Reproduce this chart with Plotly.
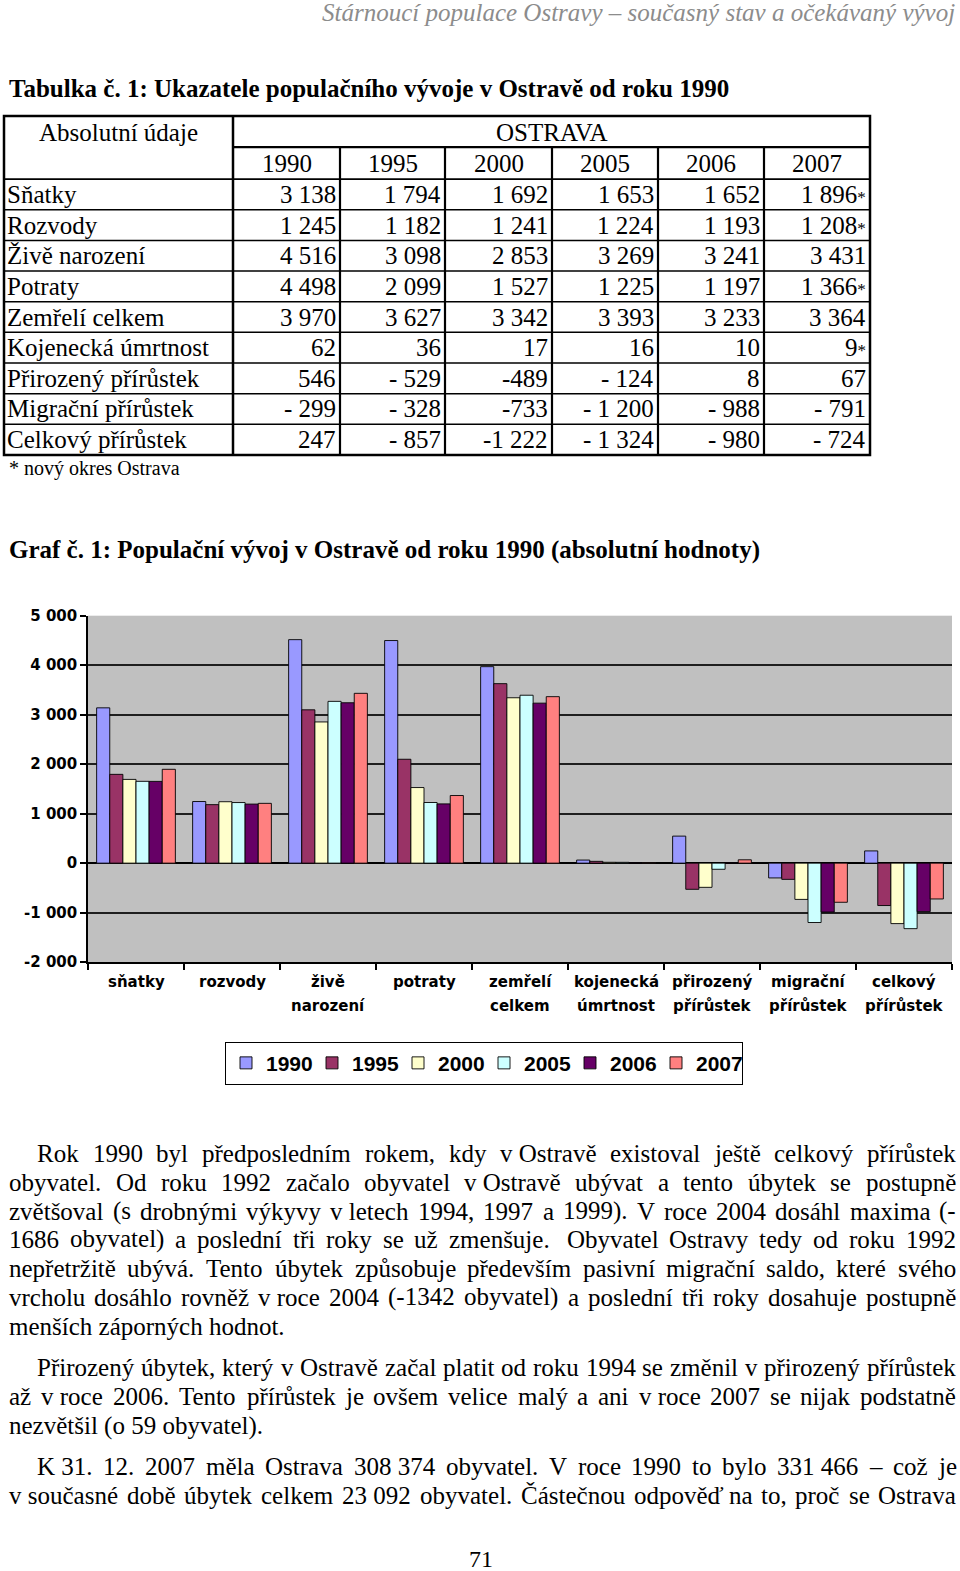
import unicodedata
import plotly.graph_objects as go

W, H = 960, 1571
# measured page mapping of the paper area in the photographed page
OFF, SC = 8.0, 0.9874


def px(x):
    return x / W


def py(y):
    return 1 - (y - OFF) / SC / H


# ---------------- data ----------------
years = ["1990", "1995", "2000", "2005", "2006", "2007"]
colors = ["#9999FF", "#993366", "#FFFFCC", "#CCFFFF", "#660066", "#FF8080"]

categories = ["sňatky", "rozvody", "živě narození", "potraty", "zemřelí celkem",
              "kojenecká úmrtnost", "přirozený přírůstek", "migrační přírůstek",
              "celkový přírůstek"]
row_labels = ["Sňatky", "Rozvody", "Živě narození", "Potraty", "Zemřelí celkem",
              "Kojenecká úmrtnost", "Přirozený přírůstek", "Migrační přírůstek",
              "Celkový přírůstek"]

snatky = [3138, 1794, 1692, 1653, 1652, 1896]
rozvody = [1245, 1182, 1241, 1224, 1193, 1208]
zive_narozeni = [4516, 3098, 2853, 3269, 3241, 3431]
potraty = [4498, 2099, 1527, 1225, 1197, 1366]
zemreli = [3970, 3627, 3342, 3393, 3233, 3364]
kojenecka = [62, 36, 17, 16, 10, 9]
prirozeny = [546, -529, -489, -124, 8, 67]
migracni = [-299, -328, -733, -1200, -988, -791]
celkovy = [247, -857, -1222, -1324, -980, -724]
indicators = [snatky, rozvody, zive_narozeni, potraty, zemreli, kojenecka,
              prirozeny, migracni, celkovy]

# table cell texts as printed
t_snatky = ["3 138", "1 794", "1 692", "1 653", "1 652", "1 896*"]
t_rozvody = ["1 245", "1 182", "1 241", "1 224", "1 193", "1 208*"]
t_zive = ["4 516", "3 098", "2 853", "3 269", "3 241", "3 431"]
t_potraty = ["4 498", "2 099", "1 527", "1 225", "1 197", "1 366*"]
t_zemreli = ["3 970", "3 627", "3 342", "3 393", "3 233", "3 364"]
t_kojenecka = ["62", "36", "17", "16", "10", "9*"]
t_prirozeny = ["546", "- 529", "-489", "- 124", "8", "67"]
t_migracni = ["- 299", "- 328", "-733", "- 1 200", "- 988", "- 791"]
t_celkovy = ["247", "- 857", "-1 222", "- 1 324", "- 980", "- 724"]
table_text = [t_snatky, t_rozvody, t_zive, t_potraty, t_zemreli, t_kojenecka,
              t_prirozeny, t_migracni, t_celkovy]

y_tickvals = [-2000, -1000, 0, 1000, 2000, 3000, 4000, 5000]
y_ticktext = ["-2 000", "-1 000", "0", "1 000", "2 000", "3 000", "4 000", "5 000"]

NB = "\u00a0"
para1 = [
    "Rok 1990 byl předposledním rokem, kdy v" + NB + "Ostravě existoval ještě celkový přírůstek",
    "obyvatel. Od roku 1992 začalo obyvatel v" + NB + "Ostravě ubývat a tento úbytek se postupně",
    "zvětšoval (s drobnými výkyvy v" + NB + "letech 1994, 1997 a 1999). V roce 2004 dosáhl maxima (-",
    "1686 obyvatel) a poslední tři roky se už zmenšuje." + NB + " Obyvatel Ostravy tedy od roku 1992",
    "nepřetržitě ubývá. Tento úbytek způsobuje především pasivní migrační saldo, které svého",
    "vrcholu dosáhlo rovněž v" + NB + "roce 2004 (-1342 obyvatel) a poslední tři roky dosahuje postupně",
    "menších záporných hodnot.",
]
para2 = [
    "Přirozený úbytek, který v Ostravě začal platit od roku 1994 se změnil v přirozený přírůstek",
    "až v" + NB + "roce 2006. Tento přírůstek je ovšem velice malý a ani v" + NB + "roce 2007 se nijak podstatně",
    "nezvětšil (o 59 obyvatel).",
]
para3 = [
    "K" + NB + "31. 12. 2007 měla Ostrava 308" + NB + "374 obyvatel. V roce 1990 to bylo 331" + NB + "466 – což je",
    "v" + NB + "současné době úbytek celkem 23" + NB + "092 obyvatel. Částečnou odpověď na to, proč se Ostrava",
]

# ---------------- helpers ----------------
_TW = {" ": 250, NB: 250, "!": 333, "(": 333, ")": 333, "*": 500, ",": 250, "-": 333,
       ".": 250, "/": 278, ":": 278, ";": 278, "–": 500, "’": 333}
for c in "0123456789":
    _TW[c] = 500
for c, w in zip("abcdefghijklmnopqrstuvwxyz",
                [444, 500, 444, 500, 444, 333, 500, 500, 278, 278, 500, 278, 778,
                 500, 500, 500, 500, 333, 389, 278, 500, 500, 722, 500, 500, 444]):
    _TW[c] = w
for c, w in zip("ABCDEFGHIJKLMNOPQRSTUVWXYZ",
                [722, 667, 667, 722, 611, 556, 722, 722, 333, 389, 722, 611, 889,
                 722, 722, 556, 722, 667, 556, 611, 722, 722, 944, 722, 722, 611]):
    _TW[c] = w


def text_width(s, size):
    tot = 0
    for ch in s:
        base = unicodedata.normalize("NFD", ch)[0]
        tot += _TW.get(ch, _TW.get(base, 500))
    return tot / 1000.0 * size


SERIF = "Liberation Serif"
annotations = []


def T(text, x, y, size, family=SERIF, color="black", xanchor="left",
      yanchor="middle", weight="normal", style="normal"):
    annotations.append(dict(text=text, x=px(x), y=py(y), xref="paper", yref="paper",
                            showarrow=False, xanchor=xanchor, yanchor=yanchor,
                            borderpad=0,
                            font=dict(family=family, size=size, color=color,
                                      weight=weight, style=style)))


def justified(line, x0, x1, y, size, justify=True):
    words = [w for w in line.split(" ") if w != ""]
    if not justify or len(words) == 1:
        T(line, x0, y, size)
        return
    widths = [text_width(w, size) for w in words]
    gap = (x1 - x0 - sum(widths)) / (len(words) - 1)
    x = x0
    for w, ww in zip(words, widths):
        T(w, x, y, size)
        x += ww + gap


# ---------------- header / titles ----------------
T("Stárnoucí populace Ostravy – současný stav a očekávaný vývoj", 956, 11, 25,
  color="#8c8c8c", xanchor="right", style="italic")
T("Tabulka č. 1: Ukazatele populačního vývoje v Ostravě od roku 1990", 8, 87, 25,
  weight="bold")
T("Graf č. 1: Populační vývoj v Ostravě od roku 1990 (absolutní hodnoty)", 8, 548, 25,
  weight="bold")

# ---------------- table ----------------
col_edges = [4, 233, 340, 445, 552, 658, 764, 870]
row_top = 115
row_h1 = 146
row_h2 = 178
row_step = 30.6
row_edges = [row_h2 + i * row_step for i in range(len(row_labels) + 1)]
tbl_bottom = row_edges[-1]

shapes = []


def L(x0, y0, x1, y1, w=2):
    shapes.append(dict(type="line", xref="paper", yref="paper",
                       x0=px(x0), y0=py(y0), x1=px(x1), y1=py(y1),
                       line=dict(color="black", width=w)))


shapes.append(dict(type="rect", xref="paper", yref="paper",
                   x0=px(col_edges[0]), x1=px(col_edges[-1]),
                   y0=py(row_top), y1=py(tbl_bottom),
                   line=dict(color="black", width=2.5)))
L(col_edges[1], row_top, col_edges[1], tbl_bottom, 2.5)
for cx in col_edges[2:-1]:
    L(cx, row_h1, cx, tbl_bottom, 2.2)
L(col_edges[1], row_h1, col_edges[-1], row_h1, 2.2)
for ry in row_edges[:-1]:
    L(col_edges[0], ry, col_edges[-1], ry, 1.8 if ry == row_h2 else 1.5)

T("Absolutní údaje", (col_edges[0] + col_edges[1]) / 2, 131, 25, xanchor="center")
T("OSTRAVA", (col_edges[1] + col_edges[-1]) / 2, 131, 25, xanchor="center")
for j, yr in enumerate(years):
    T(yr, (col_edges[j + 1] + col_edges[j + 2]) / 2, 162, 25, xanchor="center")

for i, lab in enumerate(row_labels):
    yc = (row_edges[i] + row_edges[i + 1]) / 2
    T(lab, 6, yc, 25)
    for j, s in enumerate(table_text[i]):
        if s.endswith("*"):
            s = s[:-1] + "<span style='font-size:17px'>*</span>"
        T(s, col_edges[j + 2] - 3, yc, 25, xanchor="right")

T("* nový okres Ostrava", 8, 467, 20)

# ---------------- chart ----------------
fig = go.Figure()
for j, yr in enumerate(years):
    fig.add_trace(go.Bar(
        x=categories, y=[ind[j] for ind in indicators], name=yr,
        marker=dict(color=colors[j], line=dict(color="black", width=0.9)),
    ))

LABFONT = dict(family="DejaVu Sans", size=15, color="black", weight="bold")
for cat in categories:
    parts = cat.split(" ")
    for k, part in enumerate(parts):
        annotations.append(dict(text=part, x=cat, xref="x", y=py(980 + 24 * k),
                                yref="paper", showarrow=False, xanchor="center",
                                yanchor="middle", font=LABFONT))

# ---------------- paragraphs ----------------
LEFT, RIGHT, INDENT = 8, 955, 36
SIZE = 25
p1_y = [1151, 1180, 1209, 1237, 1266, 1295, 1324]
for k, line in enumerate(para1):
    justified(line, INDENT if k == 0 else LEFT, RIGHT, p1_y[k], SIZE,
              justify=(k < len(para1) - 1))
p2_y = [1365, 1394, 1423]
for k, line in enumerate(para2):
    justified(line, INDENT if k == 0 else LEFT, RIGHT, p2_y[k], SIZE,
              justify=(k < len(para2) - 1))
p3_y = [1464, 1493]
for k, line in enumerate(para3):
    justified(line, INDENT if k == 0 else LEFT, RIGHT, p3_y[k], SIZE, justify=True)

T("71", 481, 1556, 24, xanchor="center")

fig.update_layout(
    width=W, height=H, autosize=False,
    margin=dict(l=0, r=0, t=0, b=0, pad=0),
    paper_bgcolor="white", plot_bgcolor="#C0C0C0",
    barmode="group", bargap=0.18, bargroupgap=0,
    showlegend=True,
    legend=dict(orientation="h", x=px(484), y=py(1061), xanchor="center",
                yanchor="middle", bgcolor="white", bordercolor="black",
                borderwidth=1, itemwidth=30, entrywidth=41,
                font=dict(family="Liberation Sans", size=21, color="black",
                          weight="bold"),
                tracegroupgap=0),
    xaxis=dict(domain=[px(88), px(952)], type="category",
               range=[-0.5, len(categories) - 0.5],
               showline=True, linecolor="black", linewidth=1.5,
               ticks="outside", tickson="boundaries", ticklen=6,
               tickcolor="black", tickwidth=1.5,
               showticklabels=False, showgrid=False, fixedrange=True),
    yaxis=dict(domain=[py(960), py(614)], range=[-2000, 5000],
               tickmode="array", tickvals=y_tickvals, ticktext=y_ticktext,
               ticks="outside", ticklen=6, tickcolor="black", tickwidth=1.5,
               showline=True, linecolor="black", linewidth=1.5,
               showgrid=True, gridcolor="#1f1f1f", gridwidth=1.5,
               zeroline=True, zerolinecolor="black", zerolinewidth=1.5,
               tickfont=LABFONT, fixedrange=True),
    shapes=shapes,
    annotations=annotations,
)

fig.write_html("out.html")
